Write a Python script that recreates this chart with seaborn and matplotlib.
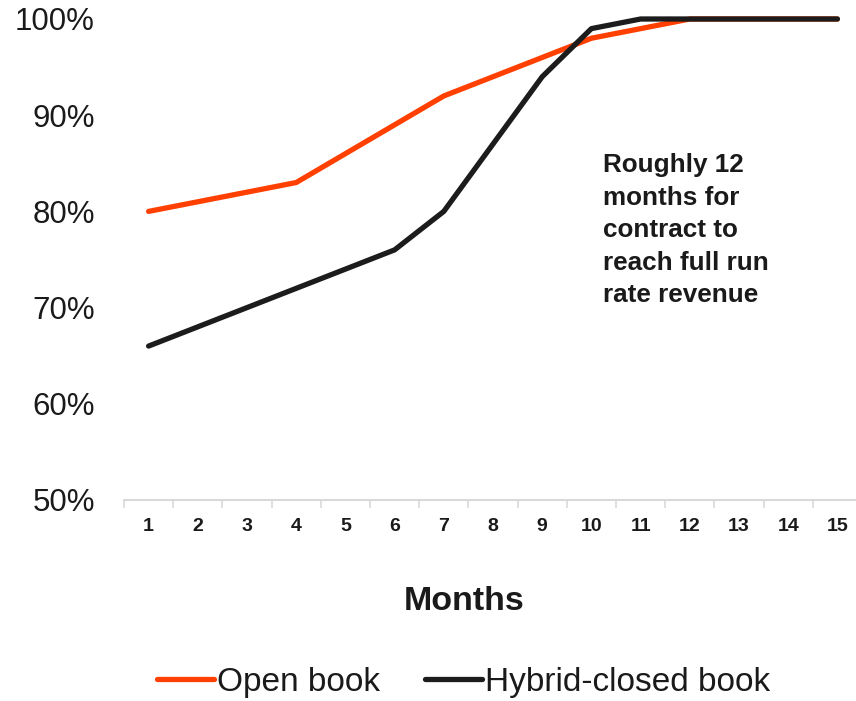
import matplotlib
matplotlib.use("Agg")
import matplotlib.pyplot as plt
import seaborn as sns
import pandas as pd
from matplotlib.ticker import FuncFormatter, FixedLocator

months = list(range(1, 16))
open_book = [80, 81, 82, 83, 86, 89, 92, 94, 96, 98, 99, 100, 100, 100, 100]
hybrid_closed = [66, 68, 70, 72, 74, 76, 80, 87, 94, 99, 100, 100, 100, 100, 100]
series_names = ["Open book", "Hybrid-closed book"]
colors = ["#FF4000", "#1C1C1C"]
y_ticks = [50, 60, 70, 80, 90, 100]

df = pd.DataFrame({
    "Month": months * 2,
    "Value": open_book + hybrid_closed,
    "Series": [series_names[0]] * len(months) + [series_names[1]] * len(months),
})

sns.set_theme(style="white")
plt.rcParams["font.family"] = ["Liberation Sans", "DejaVu Sans"]

fig = plt.figure(figsize=(8.56, 7.01), dpi=100)
ax = fig.add_axes([124 / 856, 1 - 500 / 701, 738 / 856, (500 - 19) / 701])

sns.lineplot(data=df, x="Month", y="Value", hue="Series", palette=colors,
             linewidth=3.8, ax=ax, legend=False, clip_on=False)
for ln in ax.get_lines():
    ln.set_solid_joinstyle("round")
    ln.set_solid_capstyle("round")

ax.set_xlim(0.5, 15.5)
ax.set_ylim(50, 100)
ax.set_yticks(y_ticks)
ax.yaxis.set_major_formatter(FuncFormatter(lambda v, p: f"{int(v)}%"))
ax.tick_params(axis="y", length=0, pad=21, labelsize=22.5, labelcolor="#1a1a1a")

ax.set_xticks(months)
ax.xaxis.set_minor_locator(FixedLocator([m - 0.5 for m in months] + [15.5]))
ax.tick_params(axis="x", which="major", length=0, pad=13, labelsize=14, labelcolor="#1a1a1a")
ax.tick_params(axis="x", which="minor", length=6, width=1.2, color="#d9d9d9", direction="out", bottom=True)
for lab in ax.get_xticklabels():
    lab.set_fontweight("bold")

for s in ["top", "right", "left"]:
    ax.spines[s].set_visible(False)
ax.spines["bottom"].set_color("#d9d9d9")
ax.spines["bottom"].set_linewidth(1.5)
ax.grid(False)
ax.set_xlabel("")
ax.set_ylabel("")

fig.text(464 / 856, 1 - 601 / 701, "Months", ha="center", va="center",
         fontsize=24.5, fontweight="bold", color="#1a1a1a")

ax.text(603 / 856, 1 - 153 / 701,
        "Roughly 12\nmonths for\ncontract to\nreach full run\nrate revenue",
        transform=fig.transFigure, ha="left", va="top", fontsize=18.8,
        fontweight="bold", color="#1a1a1a", linespacing=1.45)

handles = [plt.Line2D([], [], color=c, linewidth=3.8, solid_capstyle="round") for c in colors]
fig.legend(handles, series_names, loc="center", bbox_to_anchor=(464 / 856, 1 - 682 / 701),
           ncol=2, frameon=False, fontsize=24, handlelength=1.7, handletextpad=0.1,
           columnspacing=1.35, labelcolor="#1a1a1a")

fig.savefig("out.png", dpi=100)
